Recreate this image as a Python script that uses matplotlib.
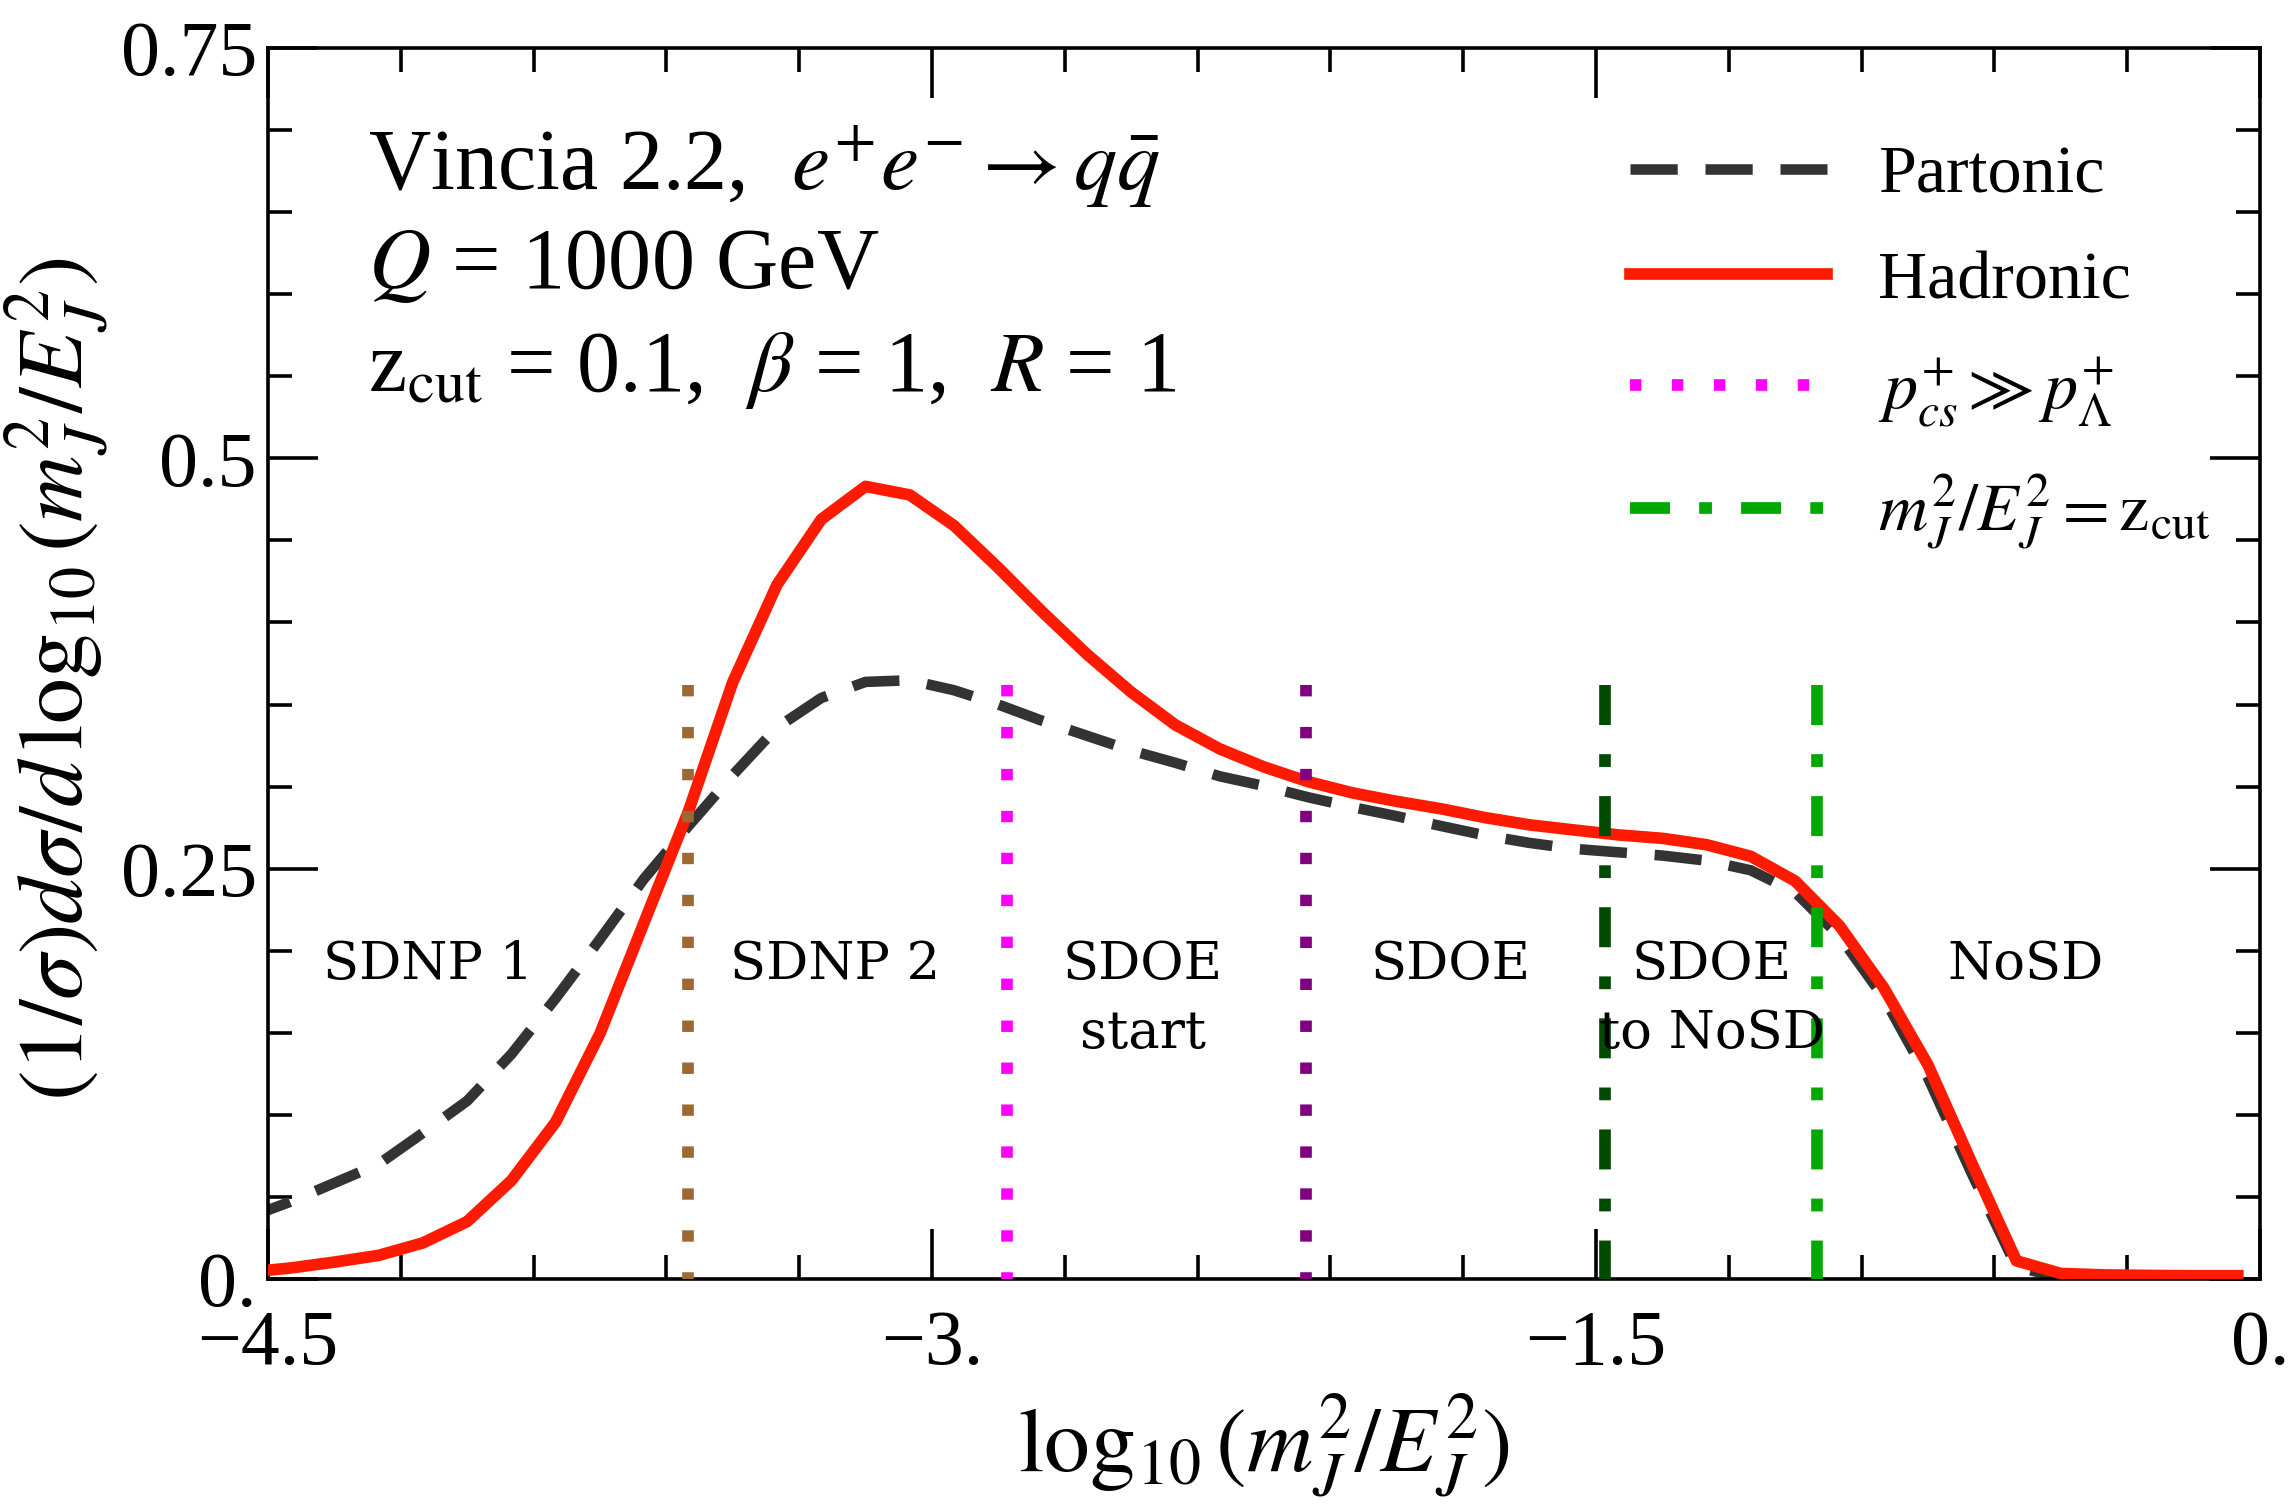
import matplotlib
matplotlib.use("Agg")
import matplotlib.pyplot as plt
from matplotlib.ticker import MultipleLocator

plt.rcParams["font.family"] = ["Liberation Serif", "DejaVu Serif"]
plt.rcParams["mathtext.fontset"] = "stix"
plt.rcParams["lines.scale_dashes"] = False
plt.rcParams["axes.linewidth"] = 1.3

# bin centres of log10(m_J^2/E_J^2)
x_centers = [-4.55, -4.45, -4.35, -4.25, -4.15, -4.05, -3.95, -3.85, -3.75, -3.65,
             -3.55, -3.45, -3.35, -3.25, -3.15, -3.05, -2.95, -2.85, -2.75, -2.65,
             -2.55, -2.45, -2.35, -2.25, -2.15, -2.05, -1.95, -1.85, -1.75, -1.65,
             -1.55, -1.45, -1.35, -1.25, -1.15, -1.05, -0.95, -0.85, -0.75, -0.65,
             -0.55, -0.45, -0.35, -0.25, -0.15, -0.05]

partonic = [0.037, 0.047, 0.0585, 0.070, 0.089, 0.1085, 0.137, 0.171, 0.207, 0.244,
            0.276, 0.307, 0.336, 0.354, 0.3638, 0.3648, 0.3587, 0.350, 0.340, 0.331,
            0.322, 0.3145, 0.3063, 0.3004, 0.2935, 0.2875, 0.282, 0.276, 0.2703, 0.2657,
            0.2621, 0.260, 0.258, 0.2549, 0.249, 0.2357, 0.209, 0.1715, 0.1227, 0.0637,
            0.0073, 0.001, 0.0, 0.0, 0.0, 0.0]

hadronic = [0.004, 0.0067, 0.0103, 0.0144, 0.022, 0.035, 0.060, 0.0956, 0.1495, 0.2174,
            0.285, 0.3636, 0.423, 0.4628, 0.4829, 0.4777, 0.459, 0.4333, 0.4063, 0.3807,
            0.3576, 0.3376, 0.323, 0.312, 0.303, 0.2962, 0.291, 0.2865, 0.2811, 0.2767,
            0.2736, 0.2706, 0.2685, 0.2646, 0.2575, 0.2425, 0.2153, 0.1775, 0.1305, 0.0701,
            0.0111, 0.0034, 0.0025, 0.0022, 0.002, 0.002]

# region boundaries (vertical markers)
boundary_x = [-3.55, -2.83, -2.155, -1.48, -1.0]
boundary_colors = ["#9E6834", "#FF00FF", "#800080", "#004B00", "#00A800"]
boundary_kind = ["dot", "dot", "dot", "dashdot", "dashdot"]
boundary_top = 0.362

region_x = [-4.138, -3.219, -2.523, -1.829, -1.238, -0.529]
region_text = [["SDNP 1"], ["SDNP 2"], ["SDOE", "start"], ["SDOE"],
               ["SDOE", "to NoSD"], ["NoSD"]]

xtick_vals = [-4.5, -3.0, -1.5, 0.0]
xtick_labels = ["\u22124.5", "\u22123.", "\u22121.5", "0."]
ytick_vals = [0.0, 0.25, 0.5, 0.75]
ytick_labels = ["0.", "0.25", "0.5", "0.75"]

fig = plt.figure(figsize=(11.46, 7.545), dpi=200)
ax = fig.add_axes([0.1169, 0.1524, 0.8691, 0.8158])

l_part, = ax.plot(x_centers, partonic, color="#333333", lw=3.8, dashes=(17, 10),
                  dash_capstyle="butt", zorder=2, label="Partonic")
l_had, = ax.plot(x_centers, hadronic, color="#FF1A00", lw=4.2, zorder=3,
                 label="Hadronic")

patterns = {"dot": (4.1, 11.0), "dashdot": (14.4, 10.5, 4.6, 10.5)}
vlines = []
for bx, c, k in zip(boundary_x, boundary_colors, boundary_kind):
    ln, = ax.plot([bx, bx], [boundary_top, 0.0], color=c, lw=4.2,
                  dashes=patterns[k], dash_capstyle="butt", zorder=4)
    vlines.append(ln)

for rx, lines in zip(region_x, region_text):
    for i, s in enumerate(lines):
        ax.text(rx, 0.1825 - 0.0415 * i, s, ha="center", va="baseline",
                fontsize=19, family="DejaVu Serif", zorder=5)

ax.text(-4.274, 0.664, r"Vincia 2.2,  $e^{+}e^{-} \rightarrow q\bar{q}$",
        fontsize=31, va="baseline")
ax.text(-4.274, 0.604, r"$Q$ = 1000 GeV", fontsize=31, va="baseline")
ax.text(-4.274, 0.541, r"z$_{\rm cut}$ = 0.1,  $\beta$ = 1,  $R$ = 1",
        fontsize=31, va="baseline")

leg = ax.legend([l_part, l_had, vlines[1], vlines[4]],
                ["Partonic", "Hadronic", r"$p^{+}_{cs} \gg p^{+}_{\Lambda}$",
                 r"$m_J^2/E_J^2 = \mathrm{z}_{\mathrm{cut}}$"],
                loc="upper left", bbox_to_anchor=(0.6837, 0.921),
                frameon=False, fontsize=24.5, handlelength=2.9,
                handletextpad=0.75, labelspacing=0.64, borderpad=0,
                borderaxespad=0)

ax.set_xlim(-4.5, 0.0)
ax.set_ylim(0.0, 0.75)
ax.set_xticks(xtick_vals)
ax.set_xticklabels(xtick_labels)
ax.set_yticks(ytick_vals)
ax.set_yticklabels(ytick_labels)
ax.xaxis.set_minor_locator(MultipleLocator(0.3))
ax.yaxis.set_minor_locator(MultipleLocator(0.05))
ax.tick_params(which="both", direction="in", top=True, right=True,
               width=1.3, labelsize=28)
ax.tick_params(which="major", length=18)
ax.tick_params(which="minor", length=8.5)
ax.tick_params(axis="x", pad=11)
ax.tick_params(axis="y", pad=4)

ax.set_xlabel(r"$\log_{10}(m_J^2/E_J^2)$", fontsize=33)
ax.set_ylabel(r"$(1/\sigma)d\sigma/d\,\log_{10}(m_J^2/E_J^2)$", fontsize=33)
ax.xaxis.set_label_coords(0.5, -0.092)
ax.yaxis.set_label_coords(-0.079, 0.487)

fig.savefig("out.png", dpi=200)
plt.close(fig)
